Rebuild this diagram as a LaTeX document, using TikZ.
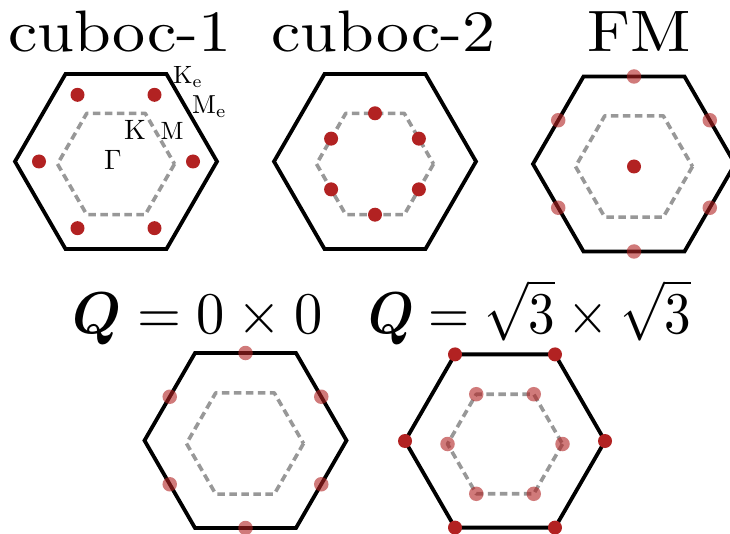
\documentclass[tikz,border=0pt]{standalone}
\usepackage{amsmath}
\usepackage{bm}
\usepackage{graphicx}
\usetikzlibrary{calc}
\definecolor{dotred}{RGB}{178,34,34}
\definecolor{bzgray}{RGB}{152,152,152}
\tikzset{
  outerhex/.style={draw=black, line width=3.8pt, line join=miter},
  innerhex/.style={draw=bzgray, line width=3.6pt, dash pattern=on 7.5pt off 4.5pt, line join=round},
  soliddot/.style={circle, fill=dotred, inner sep=0pt, minimum size=14pt},
  fadedot/.style={circle, fill=dotred, fill opacity=0.6, inner sep=0pt, minimum size=14.5pt},
  titletext/.style={inner sep=0pt, anchor=base, font=\fontsize{10}{12}\selectfont},
  bzlabel/.style={inner sep=0pt, anchor=base west, font=\fontsize{10}{12}\selectfont}
}
\newcommand{\ttl}[1]{\scalebox{6.6}[5.85]{#1}}
\begin{document}
\begin{tikzpicture}[x=1pt,y=-1pt]
\useasboundingbox (0,0) rectangle (730,534);
\fill[white] (0,0) rectangle (730,534);
\begin{scope}
\clip (0,0) rectangle (730,534);
% outer hexagons
\draw[outerhex] (116,161.5) ++(0:101) -- ++(120:101) -- ++(180:101) -- ++(240:101) -- ++(300:101) -- ++(0:101) -- cycle;
\draw[outerhex] (375,161.5) ++(0:101) -- ++(120:101) -- ++(180:101) -- ++(240:101) -- ++(300:101) -- ++(0:101) -- cycle;
\draw[outerhex] (634,164) ++(0:101) -- ++(120:101) -- ++(180:101) -- ++(240:101) -- ++(300:101) -- ++(0:101) -- cycle;
\draw[outerhex] (245.5,440.5) ++(0:101) -- ++(120:101) -- ++(180:101) -- ++(240:101) -- ++(300:101) -- ++(0:101) -- cycle;
\draw[outerhex] (505,441) ++(0:100) -- ++(120:100) -- ++(180:100) -- ++(240:100) -- ++(300:100) -- ++(0:100) -- cycle;
% inner hexagons
\draw[innerhex] (116,164) ++(0:58.5) -- ++(120:58.5) -- ++(180:58.5) -- ++(240:58.5) -- ++(300:58.5) -- ++(0:58.5) -- cycle;
\draw[innerhex] (375,164) ++(0:58.5) -- ++(120:58.5) -- ++(180:58.5) -- ++(240:58.5) -- ++(300:58.5) -- ++(0:58.5) -- cycle;
\draw[innerhex] (634,166.5) ++(0:58.5) -- ++(120:58.5) -- ++(180:58.5) -- ++(240:58.5) -- ++(300:58.5) -- ++(0:58.5) -- cycle;
\draw[innerhex] (245,443.5) ++(0:58.5) -- ++(120:58.5) -- ++(180:58.5) -- ++(240:58.5) -- ++(300:58.5) -- ++(0:58.5) -- cycle;
\draw[innerhex] (505,444) ++(0:57.5) -- ++(120:57.5) -- ++(180:57.5) -- ++(240:57.5) -- ++(300:57.5) -- ++(0:57.5) -- cycle;
\end{scope}
% cuboc-1 dots
\foreach \a [count=\i] in {0,60,...,300} \node[soliddot] (c1d\i) at ($(116,161.5)+(\a:77)$) {};
% cuboc-2 dots
\foreach \a [count=\i] in {30,90,...,330} \node[soliddot] (c2d\i) at ($(375,164)+(\a:50.7)$) {};
% FM dots
\node[soliddot] (fmc) at (634,166.5) {};
\foreach \a [count=\i] in {30,90,...,330} \node[fadedot] (fmd\i) at ($(634,164)+(\a:87.5)$) {};
% Q=0x0 dots
\foreach \a [count=\i] in {30,90,...,330} \node[fadedot] (qad\i) at ($(245.5,440.5)+(\a:87.5)$) {};
% Q=sqrt3 dots
\foreach \a [count=\i] in {0,60,...,300} \node[soliddot] (qbo\i) at ($(505,441)+(\a:100)$) {};
\foreach \a [count=\i] in {0,60,...,300} \node[fadedot] (qbi\i) at ($(505,444)+(\a:57.5)$) {};
% titles
\node[titletext] (t1) at (120,52) {\ttl{cuboc-1}};
\node[titletext] (t2) at (383.5,52) {\ttl{cuboc-2}};
\node[titletext] (t3) at (639.5,52) {\ttl{FM}};
\node[titletext] (t4) at (197.5,333) {\scalebox{5.65}[5.9]{$\boldsymbol{Q}=0\times 0$}};
\node[titletext] (t5) at (529.5,333) {\scalebox{5.3}[5.9]{$\boldsymbol{Q}=\sqrt{3}\times\sqrt{3}$}};
% labels
\node[bzlabel] (ke) at (173,83.3) {\scalebox{2.5}{K$_\mathrm{e}$}};
\node[bzlabel] (me) at (192,113.3) {\scalebox{2.6}{M$_\mathrm{e}$}};
\node[bzlabel] (kk) at (124,140) {\scalebox{2.8}{K}};
\node[bzlabel] (mm) at (160.5,140) {\scalebox{2.5}{M}};
\node[bzlabel] (gg) at (104,170) {\scalebox{2.8}{$\Gamma$}};
\end{tikzpicture}
\end{document}
